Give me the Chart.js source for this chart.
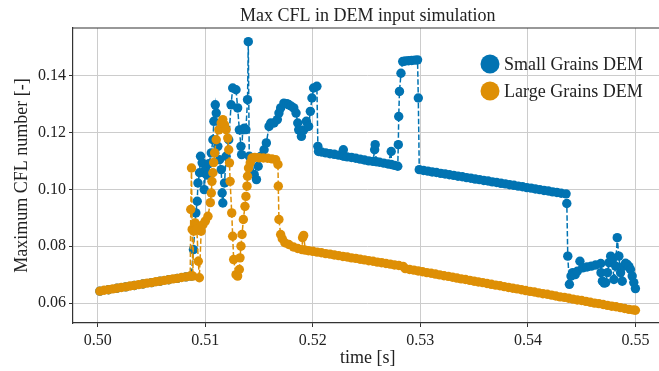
<!DOCTYPE html>
<html>
<head>
<meta charset="utf-8">
<script src="https://cdn.jsdelivr.net/npm/chart.js@4/dist/chart.umd.min.js"></script>
<style>
  body { margin: 0; overflow: hidden; background: #fff; }
  #cfl { display: block; }
</style>
</head>
<body>
<canvas id="cfl" width="667" height="371"></canvas>
<script>
var xTicks = [0.50, 0.51, 0.52, 0.53, 0.54, 0.55];
var yTicks = [0.06, 0.08, 0.10, 0.12, 0.14];

var smallTime = [
  0.5002, 0.5010, 0.5018, 0.5026, 0.5034, 0.5042, 0.5050, 0.5058, 0.5066, 0.5074, 0.5082, 0.5087,
  0.5089, 0.50912, 0.50925, 0.50932, 0.50947, 0.50956, 0.50971, 0.50986, 0.50990, 0.51002, 0.51018, 0.51034,
  0.51056, 0.51071, 0.51080, 0.51093, 0.51102, 0.51117, 0.51133, 0.51148, 0.51157, 0.51163, 0.51179, 0.51194,
  0.51218, 0.51240, 0.51255, 0.51286, 0.51301, 0.51317, 0.51332, 0.51338, 0.51348, 0.51363, 0.51378, 0.51393,
  0.51400, 0.51409, 0.51427, 0.51455, 0.51476, 0.51492, 0.51517, 0.51547, 0.51568, 0.51593, 0.51609, 0.51639,
  0.51670, 0.51685, 0.51701, 0.51731, 0.51760, 0.51777, 0.51800, 0.51823, 0.51844, 0.51860, 0.51869, 0.51894,
  0.51915, 0.51940, 0.51961, 0.51977, 0.51992, 0.52007, 0.52038, 0.52047, 0.52053,
  0.5208, 0.5212, 0.5216, 0.5220, 0.5224, 0.5228, 0.52284, 0.52288, 0.5232, 0.5236, 0.5240, 0.5244, 0.5248,
  0.5252, 0.5256, 0.52575, 0.5258, 0.5259, 0.5262, 0.5266, 0.5270, 0.52729, 0.5273, 0.5276, 0.5279,
  0.52795, 0.52799, 0.52806, 0.52820, 0.52836, 0.5286, 0.5289, 0.5292, 0.5295, 0.52974, 0.52981, 0.52990,
  0.5303, 0.5307, 0.5311, 0.5315, 0.5319, 0.5323, 0.5327, 0.5331, 0.5335, 0.5339, 0.5343, 0.5347, 0.5351,
  0.5355, 0.5359, 0.5363, 0.5367, 0.5371, 0.5375, 0.5379, 0.5383, 0.5387, 0.5391, 0.5395, 0.5399, 0.5403,
  0.5407, 0.5411, 0.5415, 0.5419, 0.5423, 0.5427, 0.5431, 0.54355,
  0.54362, 0.54371, 0.54386, 0.54401, 0.54417, 0.54440, 0.54460, 0.54484, 0.54509, 0.5455, 0.5459, 0.5463,
  0.54678, 0.54680, 0.54693, 0.54710, 0.54724, 0.54740, 0.54755, 0.54770, 0.54785, 0.54800, 0.54816, 0.54831,
  0.54846, 0.54862, 0.54877, 0.54892, 0.54908, 0.54923, 0.54940, 0.54954, 0.54970, 0.54985, 0.55000
];
var smallCfl = [
  0.0642, 0.0647, 0.0652, 0.0657, 0.0662, 0.0667, 0.0672, 0.0677, 0.0682, 0.0687, 0.0692, 0.0695,
  0.0788, 0.0917, 0.0958, 0.1022, 0.1058, 0.1116, 0.1093, 0.1058, 0.0999, 0.1069, 0.1050, 0.1090,
  0.1128, 0.1174, 0.1239, 0.1297, 0.1268, 0.1151, 0.1104, 0.1069, 0.0987, 0.0952, 0.1022, 0.1116,
  0.1174, 0.1297, 0.1356, 0.1350, 0.1286, 0.1209, 0.1151, 0.1122, 0.1209, 0.1215, 0.1210, 0.1315,
  0.1519, 0.1116, 0.1105, 0.1052, 0.1034, 0.1081, 0.1116, 0.1139, 0.1163, 0.1221, 0.1233, 0.1233,
  0.1245, 0.1268, 0.1286, 0.1303, 0.1301, 0.1297, 0.1292, 0.1286, 0.1268, 0.1233, 0.1209, 0.1186,
  0.1209, 0.1239, 0.1221, 0.1274, 0.1321, 0.1356, 0.1362, 0.1151, 0.1133,
  0.1131, 0.1128, 0.1125, 0.1123, 0.1120, 0.1117, 0.1139, 0.1117, 0.1114, 0.1112, 0.1109, 0.1106, 0.1103,
  0.1100, 0.1098, 0.1139, 0.1157, 0.1097, 0.1095, 0.1092, 0.1089, 0.1133, 0.1087, 0.1084, 0.1081,
  0.1157, 0.1256, 0.1344, 0.1408, 0.1449, 0.1451, 0.1452, 0.1453, 0.1454, 0.1455, 0.1321, 0.1069,
  0.1066, 0.1064, 0.1061, 0.1059, 0.1056, 0.1054, 0.1051, 0.1049, 0.1046, 0.1044, 0.1041, 0.1039, 0.1036,
  0.1034, 0.1031, 0.1029, 0.1026, 0.1024, 0.1021, 0.1019, 0.1016, 0.1014, 0.1011, 0.1009, 0.1006, 0.1004,
  0.1001, 0.0999, 0.0996, 0.0994, 0.0991, 0.0989, 0.0986, 0.0984,
  0.0950, 0.0765, 0.0666, 0.0695, 0.0707, 0.0700, 0.0712, 0.0747, 0.0724, 0.0727, 0.0730, 0.0734,
  0.0739, 0.0707, 0.0677, 0.0670, 0.0672, 0.0707, 0.0742, 0.0765, 0.0753, 0.0683, 0.0730, 0.0830,
  0.0765, 0.0707, 0.0677, 0.0730, 0.0740, 0.0736, 0.0728, 0.0718, 0.0695, 0.0672, 0.0651
];

var largeTime = [
  0.5002, 0.5006, 0.5010, 0.5014, 0.5018, 0.5022, 0.5026, 0.5030, 0.5034, 0.5038, 0.5042, 0.5046,
  0.5050, 0.5054, 0.5058, 0.5062, 0.5066, 0.5070, 0.5074, 0.5078, 0.5082, 0.5086,
  0.50865, 0.50872, 0.50878, 0.50884, 0.50892, 0.50905, 0.50922, 0.50935, 0.50945, 0.50962, 0.50979, 0.51000,
  0.51025, 0.51047, 0.51056, 0.51062, 0.51071, 0.51078, 0.51087, 0.51102, 0.51126, 0.51148, 0.51163, 0.51179,
  0.51194, 0.51209, 0.51218, 0.51225, 0.51231, 0.51246, 0.51255, 0.51264, 0.51286, 0.51301, 0.51317, 0.51323,
  0.51332, 0.51342, 0.51354, 0.51369, 0.51378, 0.51388, 0.51393, 0.51402, 0.51418, 0.51434,
  0.5146, 0.5150, 0.5154, 0.5158, 0.5162, 0.51655, 0.51676, 0.51679, 0.51685, 0.51701, 0.51716, 0.51740,
  0.51777, 0.5182, 0.5186, 0.5190, 0.51905, 0.51915, 0.5193,
  0.5196, 0.5200, 0.5204, 0.5208, 0.5212, 0.5216, 0.5220, 0.5224, 0.5228, 0.5232, 0.5236, 0.5240,
  0.5244, 0.5248, 0.5252, 0.5256, 0.5260, 0.5264, 0.5268, 0.5272, 0.5276, 0.5280, 0.5284,
  0.5286, 0.5290, 0.5294, 0.5298, 0.5302, 0.5306, 0.5310, 0.5314, 0.5318, 0.5322, 0.5326, 0.5330,
  0.5334, 0.5338, 0.5342, 0.5346, 0.5350, 0.5354, 0.5358, 0.5362, 0.5366, 0.5370, 0.5374, 0.5378,
  0.5382, 0.5386, 0.5390, 0.5394, 0.5398, 0.5402, 0.5406, 0.5410, 0.5414, 0.5418, 0.5422, 0.5426,
  0.5430, 0.5434, 0.5438, 0.5442, 0.5446, 0.5450, 0.5454, 0.5458, 0.5462, 0.5466, 0.5470, 0.5474,
  0.5478, 0.5482, 0.5486, 0.5490, 0.5494, 0.5498, 0.5500
];
var largeCfl = [
  0.0642, 0.0645, 0.0647, 0.0650, 0.0652, 0.0655, 0.0657, 0.0660, 0.0662, 0.0665, 0.0667, 0.0670,
  0.0672, 0.0675, 0.0677, 0.0680, 0.0682, 0.0685, 0.0687, 0.0690, 0.0692, 0.0695,
  0.0929, 0.1075, 0.0859, 0.0695, 0.0853, 0.0882, 0.0859, 0.0747, 0.0689, 0.0853, 0.0876, 0.0888,
  0.0905, 0.0953, 0.0987, 0.1028, 0.1058, 0.1094, 0.1128, 0.1174, 0.1209, 0.1233, 0.1245, 0.1227,
  0.1210, 0.1180, 0.1139, 0.1093, 0.1028, 0.0917, 0.0835, 0.0753, 0.0700, 0.0695, 0.0718, 0.0759,
  0.0800, 0.0841, 0.0894, 0.0940, 0.0975, 0.1011, 0.1046, 0.1075, 0.1093, 0.1110,
  0.1112, 0.1111, 0.1110, 0.1109, 0.1107, 0.1104, 0.1087, 0.1011, 0.0894, 0.0841, 0.0826, 0.0812,
  0.0806, 0.0797, 0.0792, 0.0788, 0.0830, 0.0838, 0.0786,
  0.0784, 0.0782, 0.0779, 0.0777, 0.0774, 0.0772, 0.0769, 0.0767, 0.0764, 0.0762, 0.0759, 0.0757,
  0.0754, 0.0752, 0.0749, 0.0747, 0.0744, 0.0742, 0.0739, 0.0737, 0.0734, 0.0732, 0.0729,
  0.0721, 0.0718, 0.0716, 0.0713, 0.0710, 0.0707, 0.0705, 0.0702, 0.0699, 0.0696, 0.0694, 0.0691,
  0.0688, 0.0685, 0.0683, 0.0680, 0.0677, 0.0674, 0.0672, 0.0669, 0.0666, 0.0663, 0.0661, 0.0658,
  0.0655, 0.0652, 0.0650, 0.0647, 0.0644, 0.0641, 0.0639, 0.0636, 0.0633, 0.0631, 0.0628, 0.0625,
  0.0622, 0.0620, 0.0617, 0.0614, 0.0611, 0.0609, 0.0606, 0.0603, 0.0600, 0.0598, 0.0595, 0.0592,
  0.0589, 0.0587, 0.0584, 0.0581, 0.0578, 0.0576, 0.0575
];

var blue = "#0173b2";
var orange = "#de8f05";
var serif = "'Liberation Serif', 'Times New Roman', serif";

function toPoints(xs, ys) {
  var pts = [];
  for (let i = 0; i < xs.length; i++) {
    pts.push({ x: xs[i], y: ys[i] });
  }
  return pts;
}

function makeSet(label, xs, ys, color, order) {
  return {
    label: label,
    data: toPoints(xs, ys),
    showLine: true,
    borderColor: color,
    backgroundColor: color,
    borderWidth: 1.5,
    borderDash: [5.5, 2.4],
    pointRadius: 4.7,
    pointBorderWidth: 0,
    pointBackgroundColor: color,
    order: order
  };
}

// title, top spine and legend drawn by hand, matplotlib style
var extras = {
  id: "extras",
  afterDraw: function(chart) {
    var ctx = chart.ctx;
    var area = chart.chartArea;
    ctx.save();
    ctx.strokeStyle = "#333";
    ctx.lineWidth = 1.2;
    ctx.beginPath();
    ctx.moveTo(area.left, area.top);
    ctx.lineTo(area.right, area.top);
    ctx.stroke();

    ctx.fillStyle = "#222";
    ctx.font = "18px " + serif;
    ctx.textAlign = "center";
    ctx.textBaseline = "middle";
    ctx.fillText("Max CFL in DEM input simulation", (area.left + area.right) / 2, 16);

    var items = [["Small Grains DEM", blue, 64], ["Large Grains DEM", orange, 91]];
    ctx.textAlign = "left";
    for (let i = 0; i < items.length; i++) {
      ctx.fillStyle = items[i][1];
      ctx.beginPath();
      ctx.arc(490, items[i][2], 9.5, 0, Math.PI * 2);
      ctx.fill();
      ctx.fillStyle = "#222";
      ctx.fillText(items[i][0], 504, items[i][2] + 1);
    }
    ctx.restore();
  }
};

var chart = new Chart(document.getElementById("cfl"), {
  type: "scatter",
  data: {
    datasets: [
      makeSet("Small Grains DEM", smallTime, smallCfl, blue, 1),
      makeSet("Large Grains DEM", largeTime, largeCfl, orange, 0)
    ]
  },
  options: {
    responsive: false,
    animation: false,
    events: [],
    layout: { padding: { top: 28, left: 0, right: 0, bottom: 0 } },
    plugins: {
      legend: { display: false },
      tooltip: { enabled: false }
    },
    scales: {
      x: {
        type: "linear",
        min: 0.4977,
        max: 0.5525,
        afterBuildTicks: function(s) { s.ticks = xTicks.map(function(v) { return { value: v }; }); },
        afterFit: function(s) { s.height = 48; },
        ticks: {
          color: "#222",
          font: { family: serif, size: 16 },
          padding: 4,
          maxRotation: 0,
          callback: function(v) { return v.toFixed(2); }
        },
        grid: { color: "#cccccc", lineWidth: 1, tickLength: 4, tickColor: "#333" },
        border: { color: "#333", width: 1.2 },
        title: {
          display: true,
          text: "time [s]",
          color: "#222",
          font: { family: serif, size: 18, lineHeight: 1.2 },
          padding: { top: 0, bottom: 2 }
        }
      },
      y: {
        min: 0.0530,
        max: 0.1567,
        afterBuildTicks: function(s) { s.ticks = yTicks.map(function(v) { return { value: v }; }); },
        afterFit: function(s) { s.width = 73; },
        ticks: {
          color: "#222",
          font: { family: serif, size: 16 },
          padding: 3,
          callback: function(v) { return v.toFixed(2); }
        },
        grid: { color: "#cccccc", lineWidth: 1, tickLength: 4, tickColor: "#333" },
        border: { color: "#333", width: 1.2 },
        title: {
          display: true,
          text: "Maximum CFL number [-]",
          color: "#222",
          font: { family: serif, size: 18, lineHeight: 1.2 },
          padding: { top: 11, bottom: 0 }
        }
      }
    }
  },
  plugins: [extras]
});
</script>
</body>
</html>
